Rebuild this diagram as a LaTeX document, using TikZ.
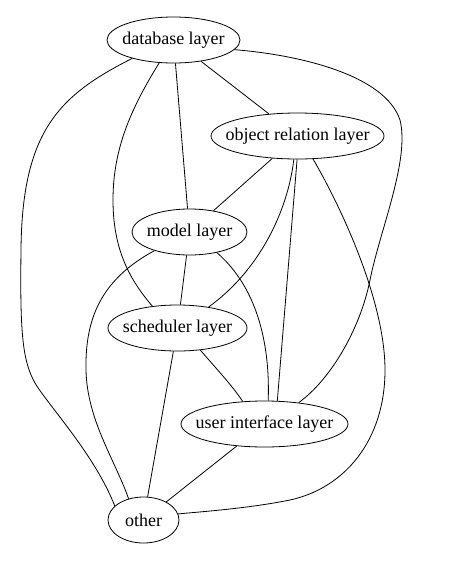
\documentclass[tikz,border=0pt]{standalone}
\usepackage{fontspec}
\setmainfont{Liberation Serif}
\usetikzlibrary{shapes.geometric}
\begin{document}
\begin{tikzpicture}[x=0.75pt,y=-0.75pt,
  lay/.style={draw, ellipse, line width=0.6pt, inner sep=0pt, minimum height=34.5pt, minimum width=#1, font=\fontsize{13.5pt}{16pt}\selectfont},
  edge/.style={draw, line width=0.6pt}]
\useasboundingbox (0,0) rectangle (455,561);
\node[lay=99.75pt]  (db) at (173.5,40)  {\makebox[0pt]{database layer}};
\node[lay=129.75pt] (or) at (297.5,136) {\makebox[0pt]{object relation layer}};
\node[lay=86.25pt]  (md) at (189.5,232) {\makebox[0pt]{model layer}};
\node[lay=104.25pt] (sc) at (177.5,328) {\makebox[0pt]{scheduler layer}};
\node[lay=125.25pt] (ui) at (264.5,424) {\makebox[0pt]{user interface layer}};
\node[lay=53.25pt]  (ot) at (143.5,520) {\makebox[0pt]{other}};
% straight edges
\path[edge] (db) -- (md);
\path[edge] (db) -- (or);
\path[edge] (or) -- (md);
\path[edge] (md) -- (sc);
\path[edge] (sc) -- (ot);
\path[edge] (ui) -- (ot);
\path[edge] (or.269) -- (ui.61);
% curved edges
\path[edge] (db.204) .. controls (60,95) and (22,130) .. (21,250)
  .. controls (20,330) and (22,360) .. (35,383)
  .. controls (48,405) and (95,455) .. (ot.154);
\path[edge] (db.238) .. controls (130,110) and (113,150) .. (113,200)
  .. controls (113,250) and (130,280) .. (sc.139);
\path[edge] (db.351) .. controls (300,55) and (385,75) .. (400,120)
  .. controls (410,160) and (380,230) .. (370,280)
  .. controls (360,330) and (330,380) .. (ui.32);
\path[edge] (or.304) .. controls (340,205) and (385,300) .. (385,370)
  .. controls (385,440) and (345,488) .. (290,500)
  .. controls (250,508) and (210,511) .. (ot.10);
\path[edge] (or.261) .. controls (288,210) and (260,270) .. (sc.34);
\path[edge] (md.323) .. controls (260,290) and (270,350) .. (ui.81);
\path[edge] (md.208) .. controls (100,280) and (85,320) .. (86,370)
  .. controls (87,420) and (115,460) .. (ot.125);
\path[edge] (sc.316) .. controls (212,364) and (232,385) .. (ui.134);
\end{tikzpicture}
\end{document}
